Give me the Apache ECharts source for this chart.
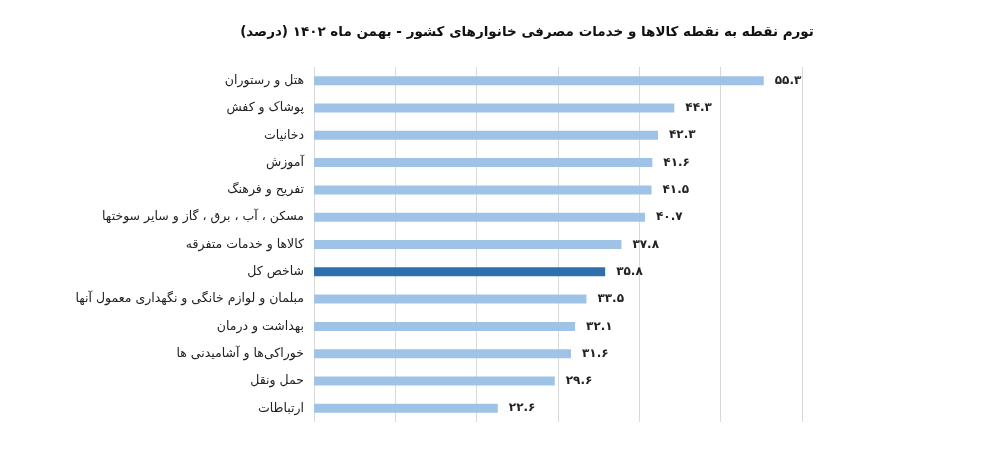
<!DOCTYPE html>
<html>
<head>
<meta charset="utf-8">
<script src="https://cdn.jsdelivr.net/npm/echarts@6/dist/echarts.min.js"></script>
<style>
html,body{margin:0;padding:0;background:#fff;}
#chart{width:982px;height:450px;}
</style>
</head>
<body>
<div id="chart"></div>
<script>
var titleText = 'تورم نقطه به نقطه کالاها و خدمات مصرفی خانوارهای کشور - بهمن ماه ۱۴۰۲ (درصد)';
var categories = [
  'هتل و رستوران',
  'پوشاک و کفش',
  'دخانیات',
  'آموزش',
  'تفریح و فرهنگ',
  'مسکن ، آب ، برق ، گاز و سایر سوختها',
  'کالاها و خدمات متفرقه',
  'شاخص کل',
  'مبلمان و لوازم خانگی و نگهداری معمول آنها',
  'بهداشت و درمان',
  'خوراکی‌ها و آشامیدنی ها',
  'حمل ونقل',
  'ارتباطات'
];
var values = [55.3, 44.3, 42.3, 41.6, 41.5, 40.7, 37.8, 35.8, 33.5, 32.1, 31.6, 29.6, 22.6];
var highlightCategory = 'شاخص کل';

var faDigits = '۰۱۲۳۴۵۶۷۸۹';
function toFa(v) {
  return String(v.toFixed(1)).replace(/[0-9]/g, function (d) { return faDigits[+d]; });
}

var chart = echarts.init(document.getElementById('chart'), null, {renderer: 'canvas'});
chart.setOption({
  backgroundColor: '#ffffff',
  animation: false,
  title: {
    text: titleText,
    left: 522,
    top: 20,
    textAlign: 'center',
    textStyle: {
      fontFamily: 'DejaVu Sans',
      fontSize: 13.5,
      fontWeight: 'bold',
      color: '#111'
    }
  },
  grid: {left: 314, right: 180, top: 67, bottom: 28, containLabel: false},
  xAxis: {
    type: 'value',
    min: 0,
    max: 60,
    interval: 10,
    axisLabel: {show: false},
    axisLine: {show: false},
    axisTick: {show: false},
    splitLine: {show: true, lineStyle: {color: '#d9d9d9', width: 1}}
  },
  yAxis: {
    type: 'category',
    data: categories,
    inverse: true,
    axisLine: {show: false},
    axisTick: {show: false},
    axisLabel: {
      margin: 10,
      fontFamily: 'DejaVu Sans',
      fontSize: 12.5,
      color: '#222'
    }
  },
  series: [{
    type: 'bar',
    data: values.map(function (v, i) {
      return {
        value: v,
        itemStyle: {color: categories[i] === highlightCategory ? '#2e6fad' : '#9fc3e6'}
      };
    }),
    barWidth: 9,
    label: {
      show: true,
      position: 'right',
      distance: 11,
      fontFamily: 'DejaVu Sans',
      fontSize: 12,
      fontWeight: 'bold',
      color: '#222',
      formatter: function (p) { return toFa(p.value); }
    }
  }]
});
</script>
</body>
</html>
